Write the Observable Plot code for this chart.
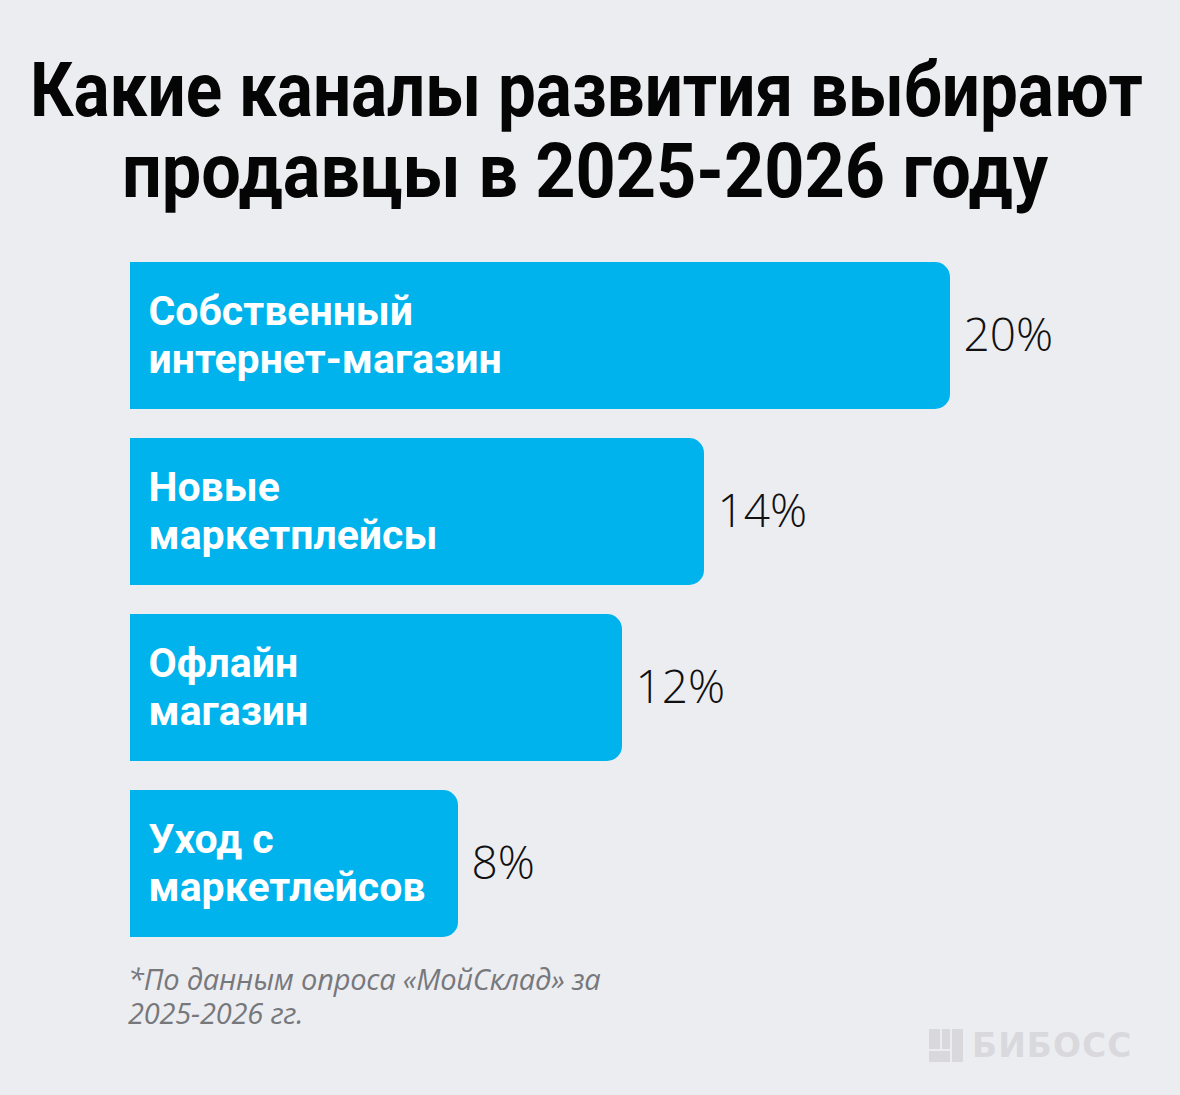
<!DOCTYPE html>
<html lang="ru">
<head>
<meta charset="utf-8">
<script src="https://cdn.jsdelivr.net/npm/d3@7"></script>
<script src="https://cdn.jsdelivr.net/npm/@observablehq/plot@0.6"></script>
<style>
  html, body { margin: 0; padding: 0; background: #ecedf1; }
  body { width: 1180px; height: 1095px; position: relative; overflow: hidden; }
  #title {
    height: 240px; box-sizing: border-box; padding-top: 50px;
    font-family: Roboto, "Noto Sans", sans-serif;
    font-weight: 700; font-size: 76px; line-height: 81px; color: #050505;
  }
  #title span { display: block; white-space: nowrap; width: max-content; transform-origin: 0 0; }
  #chart svg { display: block; }
  #note {
    position: absolute; left: 128px; top: 964px; font-family: "Open Sans", sans-serif;
    font-style: italic; font-size: 29px; color: #77787c; letter-spacing: -0.2px;
  }
  #note div { height: 34px; line-height: 30px; white-space: nowrap; }
  #brand { position: absolute; left: 929px; top: 1026px; display: flex; align-items: center; gap: 9px; }
  #brand .mark { position: relative; width: 34px; height: 33px; }
  #brand .mark div { position: absolute; background: #d9d9dd; }
  #brand .word { font-family: "DejaVu Sans", sans-serif; font-weight: 700; font-size: 33px; color: #d9d9dd; letter-spacing: 1px; }
</style>
</head>
<body>
<div id="title"><span data-left="30" data-width="1113">Какие каналы развития выбирают</span><span data-left="122" data-width="926">продавцы в 2025-2026 году</span></div>
<div id="chart"></div>
<div id="note"><div>*По данным опроса «МойСклад» за</div><div>2025-2026 гг.</div></div>
<div id="brand">
  <div class="mark">
    <div style="left:0;top:0;width:11px;height:20px"></div>
    <div style="left:13px;top:0;width:8px;height:20px"></div>
    <div style="left:23px;top:0;width:11px;height:33px"></div>
    <div style="left:0;top:22px;width:21px;height:11px"></div>
  </div>
  <div class="word">БИБОСС</div>
</div>
<script>
// Survey: development channels chosen by sellers, share of respondents (%)
const channels = [
  "Собственный\nинтернет-магазин",
  "Новые\nмаркетплейсы",
  "Офлайн\nмагазин",
  "Уход с\nмаркетлейсов"
];
const shares = [20, 14, 12, 8];

const rows = channels.map((name, i) => ({name, share: shares[i]}));
const blue = "#00b3ec";

// Condense each headline line horizontally to its set width
document.querySelectorAll("#title span").forEach(s => {
  const w = s.getBoundingClientRect().width;
  const target = +s.dataset.width;
  s.style.marginLeft = s.dataset.left + "px";
  s.style.transform = `scaleX(${target / w})`;
});

const chart = Plot.plot({
  width: 1180,
  height: 720,
  marginTop: 22,
  marginBottom: 23,
  marginLeft: 130,
  marginRight: 230,
  style: {background: "transparent", overflow: "visible"},
  x: {domain: [0, 20], axis: null},
  y: {domain: channels, axis: null, paddingInner: 0.165, paddingOuter: 0, align: 0},
  marks: [
    // rounded bar, then a square-cornered half to flatten the left corners
    Plot.barX(rows, {x: "share", y: "name", fill: blue, rx: 15}),
    Plot.barX(rows, {x1: 0, x2: d => d.share / 2, y: "name", fill: blue}),
    Plot.text(rows, {
      x: 0, y: "name", text: "name", dx: 18, textAnchor: "start", lineAnchor: "middle",
      lineHeight: 1.17, fill: "white", fontSize: 41, fontWeight: 700,
      fontFamily: "Roboto, sans-serif", dy: -2, letterSpacing: "-0.9px"
    }),
    Plot.text(rows, {
      x: "share", y: "name", text: d => `${d.share}%`, dx: 13, textAnchor: "start",
      fill: "#111", fontSize: 46, fontWeight: 300, fontFamily: "'Open Sans', sans-serif",
      letterSpacing: "0.5px"
    })
  ]
});
document.getElementById("chart").append(chart);
</script>
</body>
</html>
